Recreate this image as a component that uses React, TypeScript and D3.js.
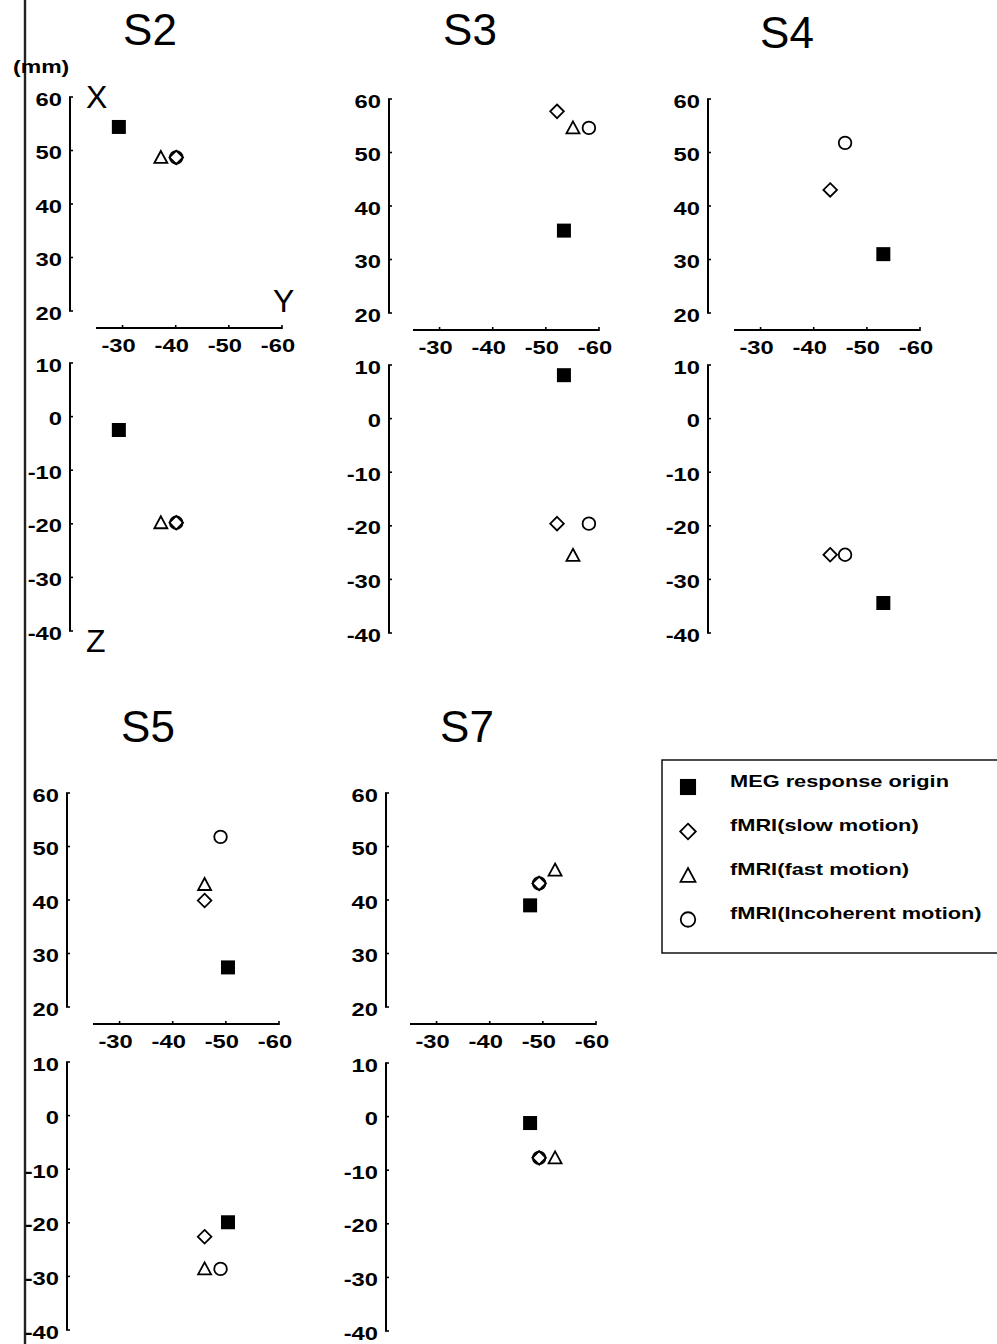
import * as d3 from "d3";

// subjects and coordinates (mm): Y (lateral), X (anterior), Z (vertical)
const subjects = ["S2", "S3", "S4", "S5", "S7"];

const megY = [-29.3, -53.4, -53.1, -50.4, -47.6];
const megX = [54.4, 35.4, 31.0, 27.4, 39.0];
const megZ = [-2.5, 8.1, -34.4, -19.9, -1.2];

const slowY = [-40.1, -52.1, -43.1, -46.0, -49.3];
const slowX = [48.7, 57.7, 43.0, 39.9, 43.1];
const slowZ = [-19.8, -19.6, -25.4, -22.6, -7.7];

const fastY: (number | null)[] = [-37.2, -55.1, null, -46.0, -52.3];
const fastX: (number | null)[] = [48.7, 54.6, null, 42.9, 45.6];
const fastZ: (number | null)[] = [-19.8, -25.5, null, -28.6, -7.7];

const incY = [-40.1, -58.1, -45.9, -49.0, -49.3];
const incX = [48.7, 54.6, 51.8, 51.8, 43.1];
const incZ = [-19.8, -19.6, -25.4, -28.6, -7.7];

const yTicks = [-30, -40, -50, -60];
const xTicks = [60, 50, 40, 30, 20];
const zTicks = [10, 0, -10, -20, -30, -40];

const legendLabels = [
  "MEG response origin",
  "fMRI(slow motion)",
  "fMRI(fast motion)",
  "fMRI(Incoherent motion)",
];
const legendShapes = ["square", "diamond", "triangle", "circle"];

const FONT = "'Liberation Sans', Arial, Helvetica, sans-serif";

// panel placement on the page
const layout = [
  { axisX: 70, top: 97, lower: 266, x0: 96, titleX: 150, titleY: 45 },
  { axisX: 389, top: 99, lower: 266, x0: 413, titleX: 470, titleY: 45 },
  { axisX: 708, top: 99, lower: 266, x0: 734, titleX: 787, titleY: 48 },
  { axisX: 67, top: 793, lower: 269, x0: 93, titleX: 148, titleY: 742 },
  { axisX: 386, top: 793, lower: 270, x0: 410, titleX: 467, titleY: 742 },
];

function Marker({ shape, cx, cy, k = 1 }: { shape: string; cx: number; cy: number; k?: number }) {
  const sw = 1.8;
  if (shape === "square") {
    const s = 7 * k;
    return <rect x={cx - s} y={cy - s} width={2 * s} height={2 * s} fill="#000" />;
  }
  if (shape === "diamond") {
    const h = 6.8 * k;
    return (
      <path
        d={`M${cx},${cy - h}L${cx + h},${cy}L${cx},${cy + h}L${cx - h},${cy}Z`}
        fill="none"
        stroke="#000"
        strokeWidth={sw}
      />
    );
  }
  if (shape === "triangle") {
    const w = 6.5 * k;
    return (
      <path
        d={`M${cx},${cy - w}L${cx + w},${cy + 5.5 * k}L${cx - w},${cy + 5.5 * k}Z`}
        fill="none"
        stroke="#000"
        strokeWidth={sw}
      />
    );
  }
  return <circle cx={cx} cy={cy} r={6.3 * k} fill="none" stroke="#000" strokeWidth={sw} />;
}

function StretchText({
  x,
  y,
  children,
  anchor = "start",
  size = 18,
  sx = 1.32,
  weight = "bold",
}: {
  x: number;
  y: number;
  children: string;
  anchor?: string;
  size?: number;
  sx?: number;
  weight?: string;
}) {
  return (
    <text
      transform={`translate(${x},${y}) scale(${sx},1)`}
      textAnchor={anchor}
      fontFamily={FONT}
      fontWeight={weight}
      fontSize={size}
      fill="#000"
    >
      {children}
    </text>
  );
}

function Panel({ i }: { i: number }) {
  const L = layout[i];
  const sx = d3.scaleLinear().domain([-25, -60]).range([L.x0, L.x0 + 186]);
  const sUp = d3.scaleLinear().domain([60, 20]).range([L.top, L.top + 214]);
  const sLo = d3
    .scaleLinear()
    .domain([10, -40])
    .range([L.top + L.lower, L.top + L.lower + 268]);
  const axisY = L.top + 231;

  const upper = [
    { shape: "circle", y: incY[i], v: incX[i] },
    { shape: "diamond", y: slowY[i], v: slowX[i] },
    { shape: "triangle", y: fastY[i], v: fastX[i] },
    { shape: "square", y: megY[i], v: megX[i] },
  ];
  const lower = [
    { shape: "circle", y: incY[i], v: incZ[i] },
    { shape: "diamond", y: slowY[i], v: slowZ[i] },
    { shape: "triangle", y: fastY[i], v: fastZ[i] },
    { shape: "square", y: megY[i], v: megZ[i] },
  ];

  const vAxis = (scale: d3.ScaleLinear<number, number>, ticks: number[], key: string) => (
    <g key={key}>
      <line
        x1={L.axisX}
        x2={L.axisX}
        y1={scale(ticks[0])}
        y2={scale(ticks[ticks.length - 1])}
        stroke="#000"
        strokeWidth={2}
      />
      {ticks.map((t) => (
        <g key={t}>
          <line
            x1={L.axisX - 1}
            x2={L.axisX + 3}
            y1={scale(t)}
            y2={scale(t)}
            stroke="#000"
            strokeWidth={1.6}
          />
          <StretchText x={L.axisX - 8} y={scale(t) + 8.5} anchor="end">
            {String(t)}
          </StretchText>
        </g>
      ))}
    </g>
  );

  return (
    <g>
      <text
        x={L.titleX}
        y={L.titleY}
        textAnchor="middle"
        fontFamily={FONT}
        fontSize={44}
        fill="#000"
      >
        {subjects[i]}
      </text>
      {vAxis(sUp, xTicks, "up")}
      {vAxis(sLo, zTicks, "lo")}
      <line
        x1={sx(-25)}
        x2={sx(-60)}
        y1={axisY}
        y2={axisY}
        stroke="#000"
        strokeWidth={2.2}
      />
      {yTicks.map((t) => (
        <g key={t}>
          <line x1={sx(t)} x2={sx(t)} y1={axisY - 3} y2={axisY + 1} stroke="#000" strokeWidth={1.6} />
          <StretchText x={sx(t) - 4} y={axisY + 24} anchor="middle">
            {String(t)}
          </StretchText>
        </g>
      ))}
      {upper.map((m) =>
        m.y == null || m.v == null ? null : (
          <Marker key={"u" + m.shape} shape={m.shape} cx={sx(m.y)} cy={sUp(m.v)} />
        )
      )}
      {lower.map((m) =>
        m.y == null || m.v == null ? null : (
          <Marker key={"l" + m.shape} shape={m.shape} cx={sx(m.y)} cy={sLo(m.v)} />
        )
      )}
    </g>
  );
}

export default function App() {
  const W = 997;
  const H = 1344;
  const legendRows = [787, 831.5, 875.5, 919.5];
  return (
    <svg
      width={W}
      height={H}
      viewBox={`0 0 ${W} ${H}`}
      style={{ position: "fixed", left: 0, top: 0, background: "#fff", display: "block" }}
    >
      <rect x={0} y={0} width={W} height={H} fill="#fff" />
      <line x1={25} x2={25} y1={0} y2={H} stroke="#222" strokeWidth={2.4} />

      <StretchText x={13} y={73} size={18} sx={1.28}>
        (mm)
      </StretchText>
      <text x={86} y={108} fontFamily={FONT} fontSize={32} fill="#000">
        X
      </text>
      <text x={273} y={312} fontFamily={FONT} fontSize={32} fill="#000">
        Y
      </text>
      <text x={86} y={652} fontFamily={FONT} fontSize={32} fill="#000">
        Z
      </text>

      {subjects.map((s, i) => (
        <Panel key={s} i={i} />
      ))}

      <rect x={662} y={760} width={345} height={193} fill="none" stroke="#000" strokeWidth={1.4} />
      {legendLabels.map((lab, k) => (
        <g key={lab}>
          <Marker shape={legendShapes[k]} cx={688} cy={legendRows[k]} k={1.15} />
          <StretchText x={730} y={legendRows[k] - 0.5} size={16.5} sx={1.32}>
            {lab}
          </StretchText>
        </g>
      ))}
    </svg>
  );
}
